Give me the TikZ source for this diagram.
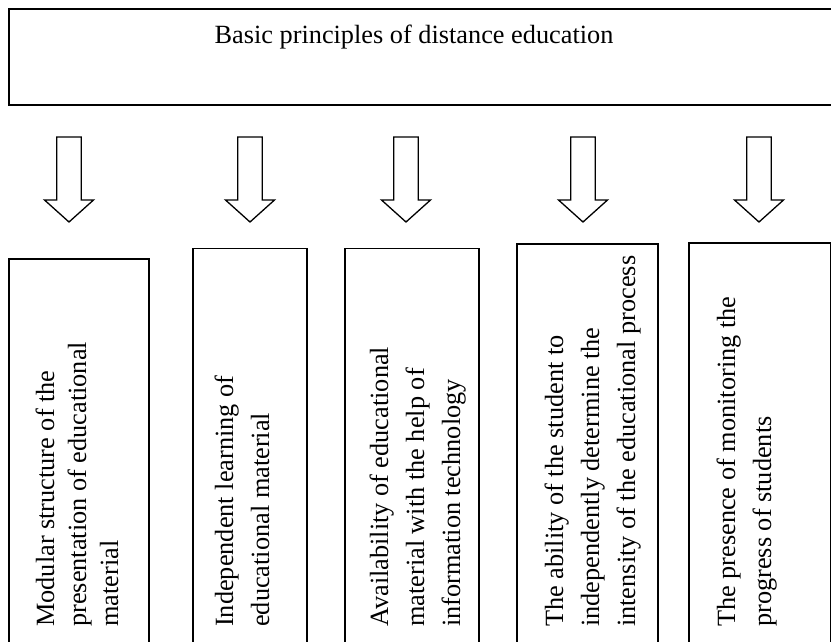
\documentclass[tikz,border=0pt]{standalone}
\usepackage{fontspec}
\setmainfont{Liberation Serif}
\tikzset{
  frame/.style={draw, line width=1.6pt, rectangle, inner sep=0pt, anchor=north west},
  lbl/.style={rotate=90, anchor=north west, inner sep=0pt, align=left, font=\fontsize{26.3}{36}\selectfont},
  lbltight/.style={lbl, font=\fontsize{26.3}{32}\selectfont},
  blockarrow/.pic={\draw[line width=1.3pt, line join=miter]
    (-12.3,0) -- (12.3,0) -- (12.3,63) -- (24.5,63) -- (0,85) -- (-24.5,63) -- (-12.3,63) -- cycle;}
}
\begin{document}
\begin{tikzpicture}[x=1pt,y=-1pt]
\useasboundingbox (0,0) rectangle (831,641);
\fill[white] (0,0) rectangle (831,641);
\clip (0,0) rectangle (831,641);
% top box
\node[frame, minimum width=840pt, minimum height=96pt] (top) at (8,8) {};
\node[font=\fontsize{26.3}{32}\selectfont, anchor=base, inner sep=0pt] (title) at (414,43) {Basic principles of distance education};
% arrows
\pic at (69,137) {blockarrow};
\pic at (250,137) {blockarrow};
\pic at (406,137) {blockarrow};
\pic at (583,137) {blockarrow};
\pic at (759,137) {blockarrow};
% lower boxes
\node[frame, minimum width=140pt, minimum height=400pt] (b1) at (8,258) {};
\node[frame, minimum width=114pt, minimum height=410pt] (b2) at (192,247.5) {};
\node[frame, minimum width=134pt, minimum height=410pt] (b3) at (344,247.5) {};
\node[frame, minimum width=141pt, minimum height=410pt] (b4) at (516,243) {};
\node[frame, minimum width=141.5pt, minimum height=410pt] (b5) at (688,242) {};
% texts
\node[lbltight] (t1) at (31.6,627) {\strut Modular structure of the\\\strut presentation of educational\\\strut material};
\node[lbl] (t2) at (207.8,627) {\strut Independent learning of\\\strut educational material};
\node[lbl] (t3) at (362.8,627) {\strut Availability of educational\\\strut material with the help of\\\strut information technology};
\node[lbl] (t4) at (537.8,627) {\strut The ability of the student to\\\strut independently determine the\\\strut intensity of the educational process};
\node[lbl] (t5) at (709.8,627) {\strut The presence of monitoring the\\\strut progress of students};
\end{tikzpicture}
\end{document}
